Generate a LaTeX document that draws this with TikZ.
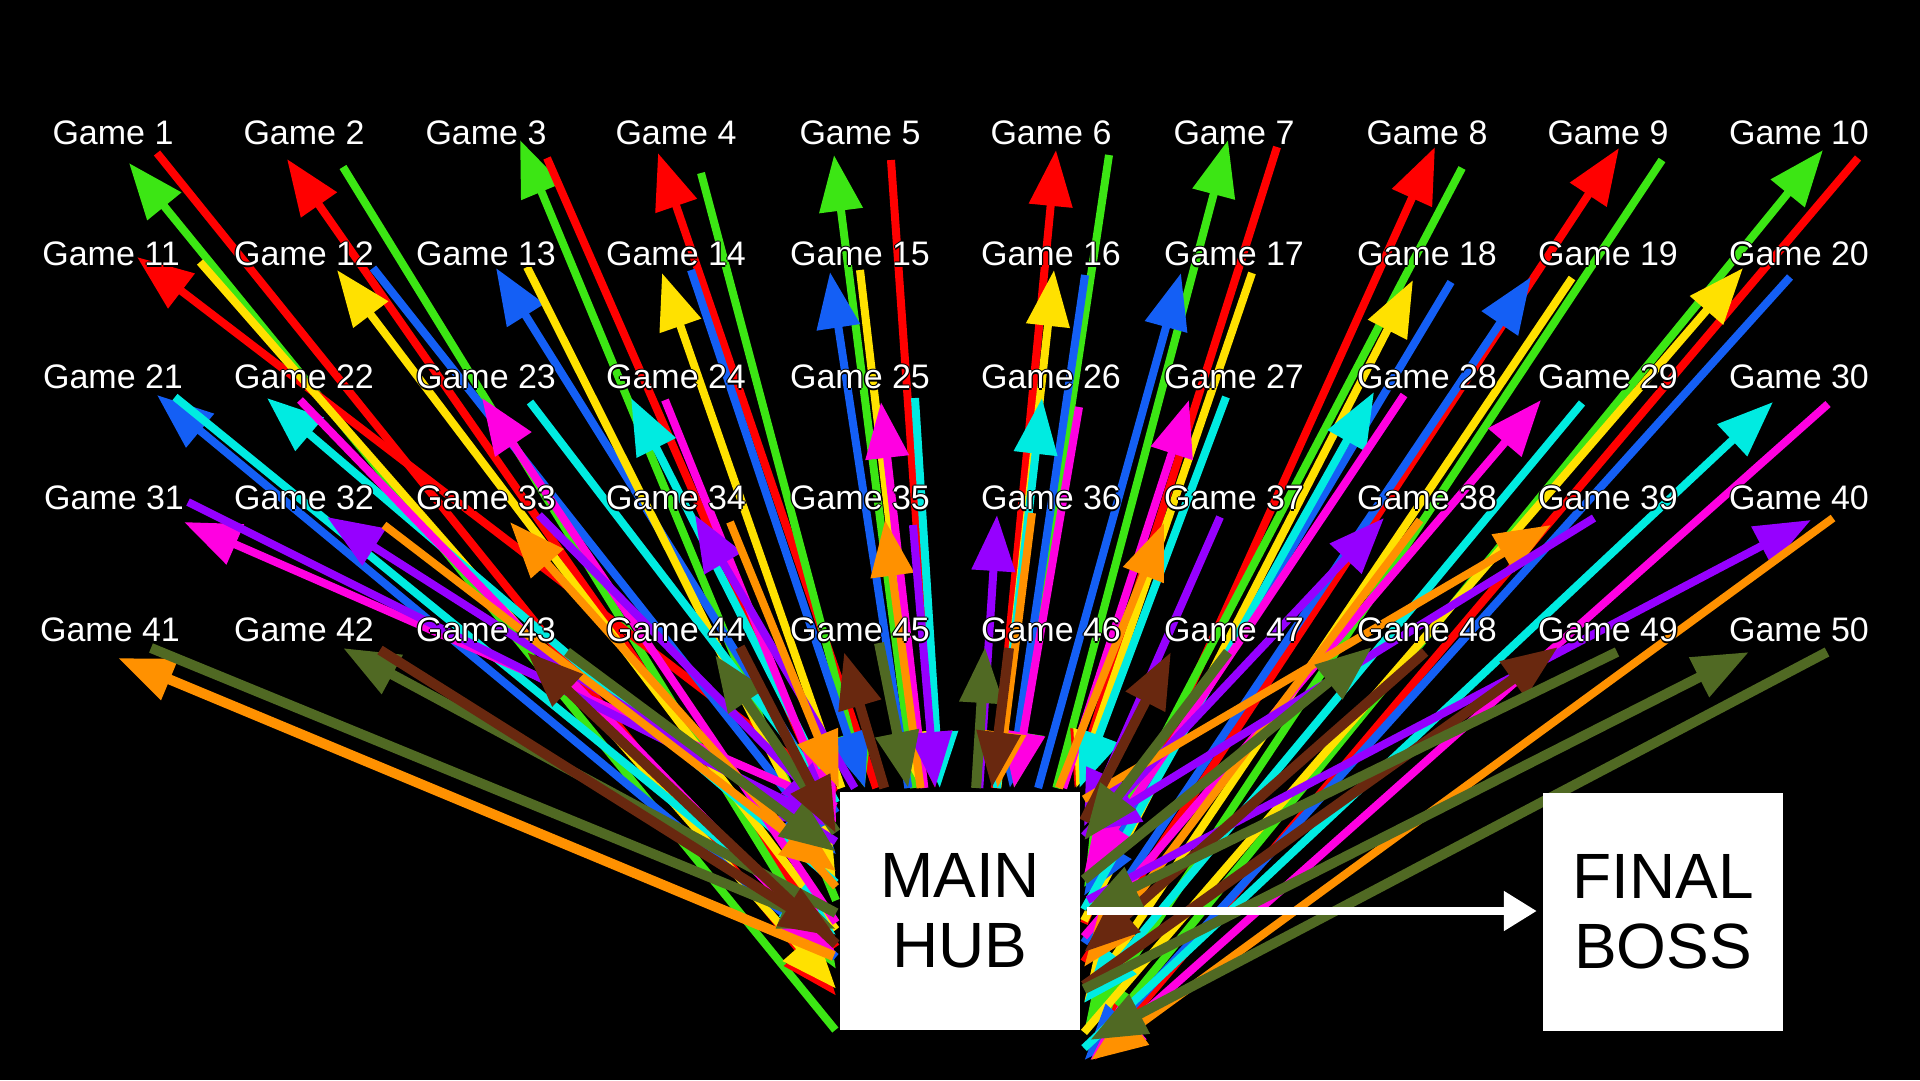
\documentclass[tikz,border=0pt]{standalone}
\usepackage{fontspec}
\setmainfont{Liberation Sans}
\usetikzlibrary{arrows.meta}
\definecolor{cR}{RGB}{255,0,0}
\definecolor{cG}{RGB}{60,230,20}
\definecolor{cY}{RGB}{255,225,0}
\definecolor{cB}{RGB}{20,95,245}
\definecolor{cC}{RGB}{0,235,225}
\definecolor{cM}{RGB}{255,0,225}
\definecolor{cP}{RGB}{150,0,255}
\definecolor{cO}{RGB}{255,145,0}
\definecolor{cV}{RGB}{80,105,35}
\definecolor{cW}{RGB}{105,40,15}
\newcommand\gameoutline[1]{%
  \rlap{\hspace{1.3pt}\color{black}#1}%
  \rlap{\hspace{-1.3pt}\color{black}#1}%
  \rlap{\raisebox{1.3pt}{\color{black}#1}}%
  \rlap{\raisebox{-1.3pt}{\color{black}#1}}%
  #1}
% point where the line from (#1,#2) toward the aim point (x from #1, y=#3) enters the hub box
\newcommand\hubpoint[4]{%
  \pgfmathsetmacro\hax{960+0.15*(#1-960)}%
  \pgfmathsetmacro\hty{(788-#2)/(#3-#2)}%
  \pgfmathsetmacro\htx{(#1<836) ? ((\hax>836) ? (836-#1)/(\hax-#1) : 1) : ((#1>1084) ? ((\hax<1084) ? (#1-1084)/(#1-\hax) : 1) : 0)}%
  \pgfmathsetmacro\htt{min(1,max(\htx,\hty))}%
  \coordinate (#4) at ({#1+\htt*(\hax-#1)},{#2+\htt*(#3-#2)});}
\def\rowlw{8}
\newcommand\gamepair[9]{%
  \coordinate (gh-#1) at (#2,#3);
  \coordinate (gt-#1) at (#4,#5);
  \hubpoint{#2}{#3}{#8}{hh-#1}
  \hubpoint{#4}{#5}{#9}{ht-#1}
  \draw[link,line width=\rowlw pt,color=#6] (hh-#1) -- (gh-#1);
  \draw[link,line width=\rowlw pt,color=#7] (gt-#1) -- (ht-#1);}
\begin{document}
\begin{tikzpicture}[x=1pt,y=-1pt,
  gamelabel/.style={text=white,inner sep=0pt,font=\fontsize{34}{40}\selectfont},
  bigbox/.style={fill=white,minimum width=240pt,minimum height=238pt,inner sep=0pt,
    align=center,font=\fontsize{64}{70}\selectfont,text=black},
  link/.style={-{Triangle[length=56pt,width=42pt]}},
  bosslink/.style={white,line width=8pt,-{Triangle[length=33pt,width=38pt]}}]
\useasboundingbox (0,0) rectangle (1920,1080);
\fill[black] (0,0) rectangle (1920,1080);
\def\rowlw{8}
% row 1
\gamepair{1}{129}{163}{157}{153}{cG}{cR}{1030}{1000}
\gamepair{2}{287}{159}{343}{167}{cR}{cG}{980}{1020}
\gamepair{3}{520}{140}{547}{158}{cG}{cR}{1040}{960}
\gamepair{4}{658}{153}{701}{173}{cR}{cG}{900}{1000}
\gamepair{5}{834}{155}{891}{160}{cG}{cR}{1000}{1000}
\gamepair{6}{1056}{150}{1109}{155}{cR}{cG}{1000}{1000}
\gamepair{7}{1228}{140}{1277}{147}{cG}{cR}{1000}{1000}
\gamepair{8}{1435}{147}{1462}{168}{cR}{cG}{1040}{980}
\gamepair{9}{1619}{148}{1662}{160}{cR}{cG}{1000}{1060}
\gamepair{10}{1823}{150}{1858}{158}{cG}{cR}{1050}{1060}
% row 2
\gamepair{11}{137}{257}{200}{262}{cR}{cY}{792}{1000}
\gamepair{12}{337}{270}{373}{268}{cY}{cB}{970}{900}
\gamepair{13}{496}{268}{527}{267}{cB}{cY}{900}{1000}
\gamepair{14}{662}{273}{691}{270}{cY}{cB}{1000}{950}
\gamepair{15}{830}{272}{860}{270}{cB}{cY}{1000}{1000}
\gamepair{16}{1054}{270}{1085}{275}{cY}{cB}{1000}{1000}
\gamepair{17}{1181}{273}{1252}{273}{cB}{cY}{950}{1000}
\gamepair{18}{1413}{280}{1451}{282}{cY}{cB}{1030}{980}
\gamepair{19}{1531}{277}{1572}{278}{cB}{cY}{1000}{1050}
\gamepair{20}{1743}{268}{1790}{277}{cY}{cB}{1040}{1060}
% row 3
\gamepair{21}{157}{395}{175}{397}{cB}{cC}{960}{940}
\gamepair{22}{267}{398}{300}{400}{cC}{cM}{900}{980}
\gamepair{23}{482}{398}{530}{402}{cM}{cC}{1000}{880}
\gamepair{24}{631}{398}{665}{400}{cC}{cM}{950}{1020}
\gamepair{25}{881}{402}{915}{398}{cM}{cC}{1000}{1000}
\gamepair{26}{1042}{398}{1079}{407}{cC}{cM}{1000}{1000}
\gamepair{27}{1189}{400}{1226}{397}{cM}{cC}{1000}{1000}
\gamepair{28}{1374}{392}{1404}{395}{cC}{cM}{1020}{960}
\gamepair{29}{1541}{400}{1582}{403}{cM}{cC}{980}{1040}
\gamepair{30}{1773}{402}{1828}{404}{cC}{cM}{1050}{1060}
% row 4
\gamepair{31}{184}{522}{188}{502}{cM}{cP}{810}{830}
\gamepair{32}{327}{517}{384}{525}{cP}{cO}{860}{900}
\gamepair{33}{510}{522}{539}{515}{cO}{cP}{950}{880}
\gamepair{34}{695}{515}{730}{522}{cP}{cO}{900}{1000}
\gamepair{35}{885}{520}{913}{525}{cO}{cP}{1000}{1000}
\gamepair{36}{997}{515}{1032}{513}{cP}{cO}{1000}{1000}
\gamepair{37}{1164}{523}{1220}{517}{cO}{cP}{960}{1020}
\gamepair{38}{1384}{518}{1420}{520}{cP}{cO}{900}{1040}
\gamepair{39}{1551}{525}{1594}{518}{cO}{cP}{820}{850}
\gamepair{40}{1811}{520}{1833}{518}{cP}{cO}{900}{1060}
% row 5
\def\rowlw{10}
\gamepair{41}{118}{658}{151}{648}{cO}{cV}{956}{930}
\gamepair{42}{343}{648}{380}{650}{cV}{cW}{930}{960}
\gamepair{43}{527}{652}{567}{652}{cW}{cV}{1000}{900}
\gamepair{44}{715}{655}{740}{647}{cV}{cW}{960}{1010}
\gamepair{45}{844}{652}{879}{643}{cW}{cV}{985}{985}
\gamepair{46}{985}{647}{1009}{648}{cV}{cW}{985}{985}
\gamepair{47}{1171}{652}{1228}{652}{cW}{cV}{1000}{950}
\gamepair{48}{1372}{647}{1425}{652}{cV}{cW}{930}{1000}
\gamepair{49}{1558}{647}{1617}{652}{cW}{cV}{1010}{924}
\gamepair{50}{1749}{652}{1827}{652}{cV}{cV}{992}{1040}
% boxes
\node[bigbox] (hub) at (960,911) {MAIN\\HUB};
\node[bigbox] (boss) at (1663,911.5) {FINAL\\BOSS};
\draw[bosslink,shorten <=7pt,shorten >=6pt] (hub.east) -- (hub.east -| boss.west);
% labels
\foreach \n/\lx/\ly in {1/113/133,2/304/133,3/486/133,4/676/133,5/860/133,6/1051/133,7/1234/133,8/1427/133,9/1608/133,10/1799/133,
  11/111/254,12/304/254,13/486/254,14/676/254,15/860/254,16/1051/254,17/1234/254,18/1427/254,19/1608/254,20/1799/254,
  21/113/377,22/304/377,23/486/377,24/676/377,25/860/377,26/1051/377,27/1234/377,28/1427/377,29/1608/377,30/1799/377,
  31/114/498,32/304/498,33/486/498,34/676/498,35/860/498,36/1051/498,37/1234/498,38/1427/498,39/1608/498,40/1799/498,
  41/110/630,42/304/630,43/486/630,44/676/630,45/860/630,46/1051/630,47/1234/630,48/1427/630,49/1608/630,50/1799/630}
  {\node[gamelabel] (game-\n) at (\lx,\ly) {\gameoutline{Game \n}};}
\end{tikzpicture}
\end{document}
